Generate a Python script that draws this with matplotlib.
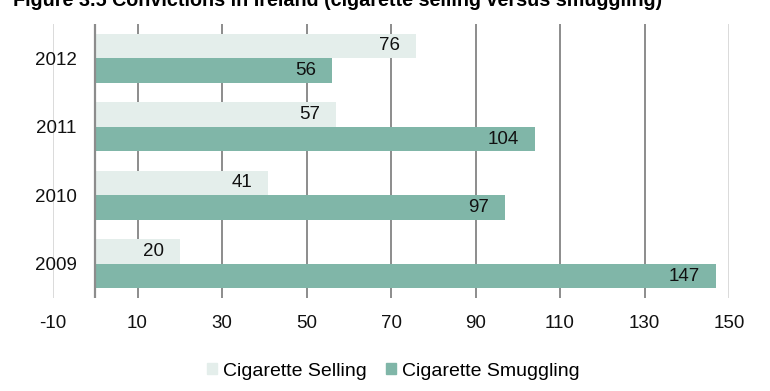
import numpy as np
import matplotlib.pyplot as plt
from matplotlib.patches import Patch

plt.rcParams["font.family"] = ["Liberation Sans", "DejaVu Sans"]

# Veri
years = ["2012", "2011", "2010", "2009"]
selling = [76, 57, 41, 20]
smuggling = [56, 104, 97, 147]
xticks = [-10, 10, 30, 50, 70, 90, 110, 130, 150]

c_sell = "#e4eeeb"
c_smug = "#80b6a8"
c_grid = "#8c8c8c"
c_light = "#dadada"

fig = plt.figure(figsize=(7.7, 3.91), dpi=100)
ax = fig.add_axes([53 / 770, 1 - 298 / 391, (729 - 53) / 770, (298 - 24) / 391])

y = np.arange(len(years))
h = 0.36
ax.barh(y - h / 2, selling, height=h, color=c_sell, zorder=2)
ax.barh(y + h / 2, smuggling, height=h, color=c_smug, zorder=2)

# Değer etiketleri (çubuk sonundan içeride)
for i in range(len(years)):
    ax.annotate(str(selling[i]), (selling[i], y[i] - h / 2), xytext=(-11.5, 0),
                textcoords="offset points", ha="right", va="center",
                fontsize=13.5, color="#111111", zorder=3)
    ax.annotate(str(smuggling[i]), (smuggling[i], y[i] + h / 2), xytext=(-11.5, 0),
                textcoords="offset points", ha="right", va="center",
                fontsize=13.5, color="#111111", zorder=3)

ax.set_xlim(-10, 150)
ax.set_ylim(len(years) - 0.5, -0.5)

# Izgara çizgileri
for t in xticks:
    col = c_light if t in (-10, 150) else c_grid
    ax.axvline(t, color=col, lw=1.4, zorder=1)
ax.axvline(0, color=c_grid, lw=1.6, zorder=3)

ax.set_xticks(xticks)
ax.set_xticklabels([str(t) for t in xticks])
ax.set_yticks(y)
ax.set_yticklabels(years)
ax.tick_params(axis="x", length=0, pad=12, labelsize=13.5, labelcolor="#111111")
ax.tick_params(axis="y", length=0, pad=-17, labelsize=13.5, labelcolor="#111111")
for s in ax.spines.values():
    s.set_visible(False)

# Başlık (referansta üstten kesik)
fig.text(13 / 770, 1 - 6.5 / 391,
         "Figure 3.5 Convictions in Ireland (cigarette selling versus smuggling)",
         fontsize=14.2, fontweight="bold", va="baseline", ha="left")

handles = [Patch(color=c_sell, label="Cigarette Selling"),
           Patch(color=c_smug, label="Cigarette Smuggling")]
fig.legend(handles=handles, loc="center", bbox_to_anchor=(393 / 770, 1 - 371 / 391),
           ncol=2, frameon=False, fontsize=14, handlelength=0.52, handleheight=0.52,
           handletextpad=0.3, columnspacing=1.0)

fig.savefig("out.png", dpi=100)
